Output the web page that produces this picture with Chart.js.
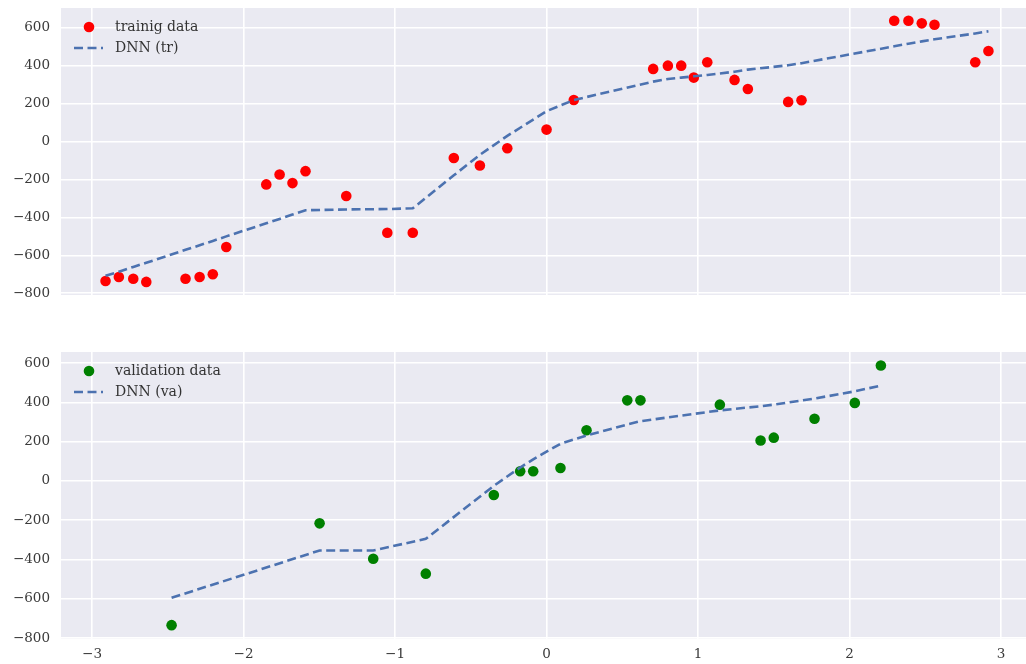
<!DOCTYPE html>
<html>
<head>
<meta charset="utf-8">
<script src="https://cdn.jsdelivr.net/npm/chart.js@4/dist/chart.umd.min.js"></script>
<style>
  body { margin: 0; background: #fff; overflow: hidden; }
  .box { position: absolute; left: 0; }
</style>
</head>
<body>
<div class="box" style="top:0"><canvas id="topChart" width="1026" height="300"></canvas></div>
<div class="box" style="top:340px"><canvas id="botChart" width="1026" height="324"></canvas></div>
<script>
'use strict';

// training data + DNN prediction on the training x
const trainX = [-2.911, -2.823, -2.728, -2.642, -2.383, -2.290, -2.203, -2.114, -1.850, -1.762, -1.677, -1.591,
  -1.322, -1.051, -0.883, -0.612, -0.440, -0.259, 0.000, 0.180, 0.704, 0.801, 0.889, 0.972, 1.061, 1.241,
  1.329, 1.595, 1.683, 2.295, 2.389, 2.477, 2.561, 2.830, 2.917];
const trainY = [-735, -714, -723, -740, -723, -714, -700, -556, -226, -174, -219, -156,
  -287, -481, -481, -87, -126, -35, 63, 219, 383, 400, 400, 337, 418, 325,
  277, 209, 218, 637, 637, 623, 616, 418, 477];
const dnnTrY = [-708, -686, -661, -639, -571, -547, -524, -500, -431, -408, -385, -362,
  -358, -356, -352, -178, -70, 30, 160, 219, 316, 330, 337, 344, 351, 368,
  379, 402, 413, 502, 516, 528, 539, 570, 581];

// validation data + DNN prediction on the validation x
const valX = [-2.475, -1.498, -1.144, -0.797, -0.348, -0.174, -0.088, 0.092, 0.264, 0.533, 0.620,
  1.144, 1.413, 1.500, 1.769, 2.035, 2.207];
const valY = [-734, -216, -396, -472, -72, 49, 49, 66, 258, 410, 410,
  388, 206, 220, 316, 397, 587];
const dnnVaY = [-595, -354, -354, -295, -25, 68, 110, 189, 231, 287, 304,
  359, 380, 388, 419, 456, 485];

const xTicks = [-3, -2, -1, 0, 1, 2, 3];
const yTicks = [-800, -600, -400, -200, 0, 200, 400, 600];

Chart.defaults.font.family = "'DejaVu Serif', serif";
Chart.defaults.font.size = 13.5;
Chart.defaults.color = '#3a3a3a';

function pts(xs, ys) {
  return xs.map((x, i) => ({x: x, y: ys[i]}));
}

function minusLabel(v) {
  return v < 0 ? '\u2212' + Math.abs(v) : String(v);
}

// no extra room for labels hanging over the ends of an axis
function noPad(s) {
  s.paddingTop = 0;
  s.paddingBottom = 0;
  s.paddingLeft = 0;
  s.paddingRight = 0;
}

// grey plotting area like seaborn
const bgPlugin = {
  id: 'bg',
  beforeDraw(chart) {
    const a = chart.chartArea;
    const ctx = chart.ctx;
    ctx.save();
    ctx.fillStyle = '#eaeaf2';
    ctx.fillRect(a.left, a.top, a.right - a.left, a.bottom - a.top);
    ctx.restore();
  }
};

// legend drawn in the upper-left corner of the plotting area
const innerLegend = {
  id: 'innerLegend',
  afterDraw(chart) {
    const a = chart.chartArea;
    const ctx = chart.ctx;
    const rows = [19, 40];
    ctx.save();
    chart.data.datasets.forEach((ds, i) => {
      const y = a.top + rows[i];
      if (ds.showLine) {
        ctx.strokeStyle = ds.borderColor;
        ctx.lineWidth = ds.borderWidth;
        ctx.setLineDash(ds.borderDash);
        ctx.beginPath();
        ctx.moveTo(a.left + 13, y);
        ctx.lineTo(a.left + 42, y);
        ctx.stroke();
        ctx.setLineDash([]);
      } else {
        ctx.fillStyle = ds.backgroundColor;
        ctx.beginPath();
        ctx.arc(a.left + 28, y, 5.3, 0, Math.PI * 2);
        ctx.fill();
      }
      ctx.fillStyle = '#333';
      ctx.font = "14px 'DejaVu Serif', serif";
      ctx.textBaseline = 'middle';
      ctx.textAlign = 'left';
      ctx.fillText(ds.label, a.left + 54, y);
    });
    ctx.restore();
  }
};

function makeChart(id, dotLabel, dotColor, xs, ys, lineLabel, lineY, yMin, yMax, showX, padTop, xHeight) {
  return new Chart(document.getElementById(id), {
    type: 'scatter',
    data: {
      datasets: [{
        label: dotLabel,
        data: pts(xs, ys),
        backgroundColor: dotColor,
        borderColor: dotColor,
        pointRadius: 5.3,
        pointBorderWidth: 0,
        order: 1
      },
      {
        label: lineLabel,
        data: pts(xs, lineY),
        showLine: true,
        borderColor: '#4c72b0',
        borderWidth: 2.6,
        borderDash: [9, 4.5],
        pointRadius: 0,
        order: 0
      }]
    },
    options: {
      responsive: false,
      animation: false,
      layout: { autoPadding: false, padding: { top: padTop, left: 0, right: 0, bottom: 0 } },
      plugins: { legend: { display: false }, tooltip: { enabled: false } },
      scales: {
        x: {
          type: 'linear',
          min: -3.205,
          max: 3.165,
          afterBuildTicks: (s) => { s.ticks = xTicks.map(v => ({value: v})); },
          afterFit: (s) => { s.height = xHeight; noPad(s); },
          border: { display: false },
          grid: { color: '#ffffff', lineWidth: 1.6, drawTicks: false },
          ticks: { display: showX, padding: 8, callback: minusLabel }
        },
        y: {
          min: yMin,
          max: yMax,
          afterBuildTicks: (s) => { s.ticks = yTicks.map(v => ({value: v})); },
          afterFit: (s) => { s.width = 61; noPad(s); },
          border: { display: false },
          grid: { color: '#ffffff', lineWidth: 1.6, drawTicks: false },
          ticks: { padding: 11, callback: minusLabel }
        }
      }
    },
    plugins: [bgPlugin, innerLegend]
  });
}

makeChart('topChart', 'trainig data', '#ff0000', trainX, trainY, 'DNN (tr)', dnnTrY, -809, 704, false, 8, 5);
makeChart('botChart', 'validation data', '#008000', valX, valY, 'DNN (va)', dnnVaY, -802, 656, true, 12, 25.5);
</script>
</body>
</html>
